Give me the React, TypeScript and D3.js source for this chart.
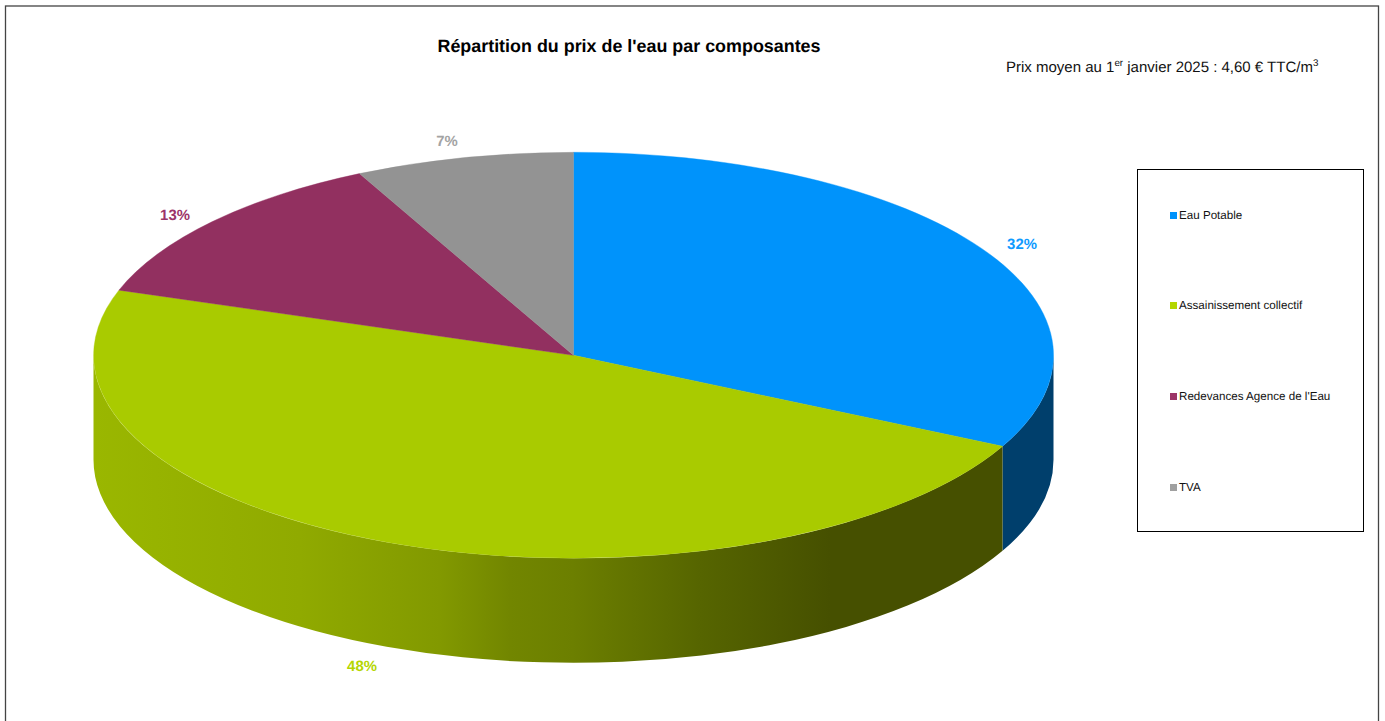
import React from "react";
import * as d3 from "d3";

const categories = ["Eau Potable", "Assainissement collectif", "Redevances Agence de l'Eau", "TVA"];
const shares = [32.4, 47.8, 12.44, 7.36];
const shareLabels = ["32%", "48%", "13%", "7%"];
const colors = ["#0093fb", "#a9cb00", "#923060", "#939393"];
const labelColors = ["#0f9bff", "#b4d600", "#9c3468", "#a3a3a3"];
const legendSwatch = ["#0093fb", "#b4d600", "#9c3468", "#a0a0a0"];
const labelPos: [number, number][] = [[1022, 249], [362, 671], [175, 220], [447, 146]];
const legendY = [215, 305, 396, 487];
const gradientStops: [number, string][] = [
  [0, "#9ab700"], [0.227, "#90aa00"], [0.381, "#829900"], [0.458, "#728600"],
  [0.527, "#6c7f00"], [0.667, "#566500"], [0.81, "#465000"], [1, "#465000"],
];

const W = 1385, H = 721;
const cx = 573.5, cy = 355.3, rx = 480, ry = 203, depth = 104.5;

export default function App() {
  const arcs = d3.pie<number>().sort(null).value((d) => d)(shares);
  const pt = (a: number, dy = 0): [number, number] => [cx + rx * Math.sin(a), cy - ry * Math.cos(a) + dy];
  const unit = d3.arc<any>().innerRadius(0).outerRadius(1);
  const top = (d: d3.PieArcDatum<number>) => unit(d) as string;

  const side = (a0: number, a1: number) => {
    const s = Math.max(a0, Math.PI / 2);
    const e = Math.min(a1, (3 * Math.PI) / 2);
    if (e <= s) return null;
    const p0 = pt(s), p1 = pt(e);
    const q0 = pt(e, depth), q1 = pt(s, depth);
    return `M${p0}A${rx},${ry} 0 0 1 ${p1}L${q0}A${rx},${ry} 0 0 0 ${q1}Z`;
  };

  return (
    <svg width={W} height={H} textRendering="geometricPrecision" style={{ position: "absolute", left: 0, top: 0, fontFamily: "'Liberation Sans', Arial, sans-serif" }}>
      <defs>
        <linearGradient id="sideGreen" gradientUnits="userSpaceOnUse" x1={93} x2={1003} y1={0} y2={0}>
          {gradientStops.map(([o, c]) => <stop key={o} offset={o} stopColor={c} />)}
        </linearGradient>
      </defs>
      <rect x={5.5} y={6} width={1373} height={H} fill="#fff" stroke="#444" strokeWidth={1.3} />
      <text x={629} y={52} textAnchor="middle" fontSize={17.9} fontWeight={700} fill="#000">
        Répartition du prix de l'eau par composantes
      </text>
      <text x={1006} y={71.5} fontSize={15} fill="#111">
        Prix moyen au 1<tspan dy={-5.5} fontSize={9.8}>er</tspan>
        <tspan dy={5.5}> janvier 2025 : 4,60 € TTC/m</tspan>
        <tspan dy={-5.5} fontSize={9.8}>3</tspan>
      </text>

      <path d={side(arcs[0].startAngle, arcs[0].endAngle) ?? ""} fill="#003f6c" />
      <path d={side(arcs[1].startAngle, arcs[1].endAngle) ?? ""} fill="url(#sideGreen)" />
      {arcs.map((d, i) => (
        <path key={i} d={top(d)} transform={`translate(${cx},${cy}) scale(${rx},${ry})`} fill={colors[i]} stroke={colors[i]} strokeWidth={0.4} vectorEffect="non-scaling-stroke" />
      ))}

      {shareLabels.map((t, i) => (
        <text key={i} x={labelPos[i][0]} y={labelPos[i][1]} textAnchor="middle" fontSize={14.9} fontWeight={700} fill={labelColors[i]}>
          {t}
        </text>
      ))}

      <rect x={1137.5} y={169.5} width={226} height={362} fill="#fff" stroke="#000" strokeWidth={1} />
      {categories.map((c, i) => (
        <g key={c}>
          <rect x={1170} y={legendY[i] - 3} width={7} height={7} fill={legendSwatch[i]} />
          <text x={1179} y={legendY[i] + 4} fontSize={11.62} fill="#111">{c}</text>
        </g>
      ))}
    </svg>
  );
}
